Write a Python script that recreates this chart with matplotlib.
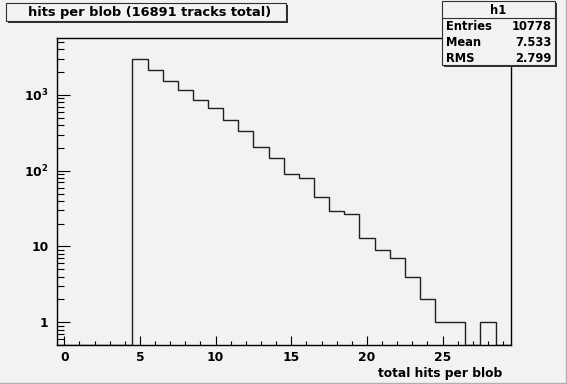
import numpy as np
import matplotlib
matplotlib.use("Agg")
from matplotlib import pyplot as plt
from matplotlib.patches import Rectangle
from matplotlib.lines import Line2D
from matplotlib.ticker import FixedLocator, FixedFormatter, LogLocator, MultipleLocator, NullFormatter

plt.rcParams['font.family'] = ['DejaVu Sans']
plt.rcParams['font.weight'] = 'bold'
plt.rcParams['mathtext.fontset'] = 'dejavusans'
plt.rcParams['mathtext.default'] = 'bf'

# histogram content, one value per integer bin 0..29
bin_centers = list(range(30))
counts = [0, 0, 0, 0, 0,
          2990, 2112, 1525, 1171, 864,
          666, 462, 331, 207, 146,
          90, 79, 45, 29, 27,
          13, 9, 7, 4, 2,
          1, 1, 0, 1, 0]

title_text = "hits per blob (16891 tracks total)"
xlabel_text = "total hits per blob"
stats_name = "h1"
stats_rows = [("Entries", "10778"), ("Mean", "7.533"), ("RMS", "2.799")]

ytick_vals = [1, 10, 100, 1000]
ytick_labels = ["1", "10", r"$10^{2}$", r"$10^{3}$"]
xtick_vals = [0, 5, 10, 15, 20, 25]

W, H = 567, 384
bg = '#f2f2f2'
ylow, yhigh = 0.5, 5700

fig = plt.figure(figsize=(W / 100, H / 100), dpi=100, facecolor=bg)
ax = fig.add_axes([56.7 / W, 1 - 345 / H, (510.7 - 56.7) / W, (345 - 37.7) / H])
ax.set_facecolor(bg)

# Drawing the histogram as an outline (empty bins sit on the frame bottom)
edges = np.arange(len(counts) + 1) - 0.5
shown = np.where(np.array(counts) > 0, counts, ylow)
ax.stairs(shown, edges, baseline=None, color='#202020', lw=1.0)

ax.set_yscale('log')
ax.set_xlim(-0.5, 29.5)
ax.set_ylim(ylow, yhigh)

# Axis ticks, ROOT style (inside the frame)
ax.yaxis.set_major_locator(FixedLocator(ytick_vals))
ax.yaxis.set_major_formatter(FixedFormatter(ytick_labels))
ax.yaxis.set_minor_locator(LogLocator(base=10, subs=range(2, 10)))
ax.yaxis.set_minor_formatter(NullFormatter())
ax.xaxis.set_major_locator(FixedLocator(xtick_vals))
ax.xaxis.set_minor_locator(MultipleLocator(1))

ax.tick_params(axis='y', which='major', direction='in', length=9.5, width=0.8,
               pad=6, labelsize=8.8)
ax.tick_params(axis='y', which='minor', direction='in', length=5, width=0.8)
ax.tick_params(axis='x', which='major', direction='in', length=6.5, width=0.8,
               pad=4, labelsize=8.8)
ax.tick_params(axis='x', which='minor', direction='in', length=3, width=0.8)
for s in ax.spines.values():
    s.set_linewidth(1.0)
    s.set_color('black')

fig.text(502 / W, 1 - 373 / H, xlabel_text, ha='right', va='center', fontsize=8.8)

# Title box with shadow
def box(x0, y0, x1, y1):
    fig.add_artist(Rectangle((x0 / W + 2 / W, 1 - y1 / H - 2 / H), (x1 - x0) / W, (y1 - y0) / H,
                             transform=fig.transFigure, facecolor='#303030', edgecolor='none', zorder=5))
    fig.add_artist(Rectangle((x0 / W, 1 - y1 / H), (x1 - x0) / W, (y1 - y0) / H,
                             transform=fig.transFigure, facecolor=bg, edgecolor='#303030',
                             lw=0.8, zorder=6))

box(6, 3, 286, 21)
fig.text(150 / W, 1 - 12.5 / H, title_text, ha='center', va='center', fontsize=9.4, zorder=7)

# Stats box
box(442, 1, 555, 65)
fig.add_artist(Line2D([442 / W, 555 / W], [1 - 18 / H, 1 - 18 / H], transform=fig.transFigure,
                      color='#303030', lw=0.8, zorder=7))
fig.text(498.5 / W, 1 - 10 / H, stats_name, ha='center', va='center', fontsize=8.3, zorder=7)
for i, (name, val) in enumerate(stats_rows):
    y = 1 - (27 + 16 * i) / H
    fig.text(446 / W, y, name, ha='left', va='center', fontsize=8.3, zorder=7)
    fig.text(552 / W, y, val, ha='right', va='center', fontsize=8.3, zorder=7)

# canvas border
fig.add_artist(Line2D([1 - 1.5 / W, 1 - 1.5 / W], [0, 1], transform=fig.transFigure, color='#b0b0b0', lw=1))
fig.add_artist(Line2D([0, 1], [1.5 / H, 1.5 / H], transform=fig.transFigure, color='#b0b0b0', lw=1))

fig.savefig('out.png', dpi=100, facecolor=bg)
